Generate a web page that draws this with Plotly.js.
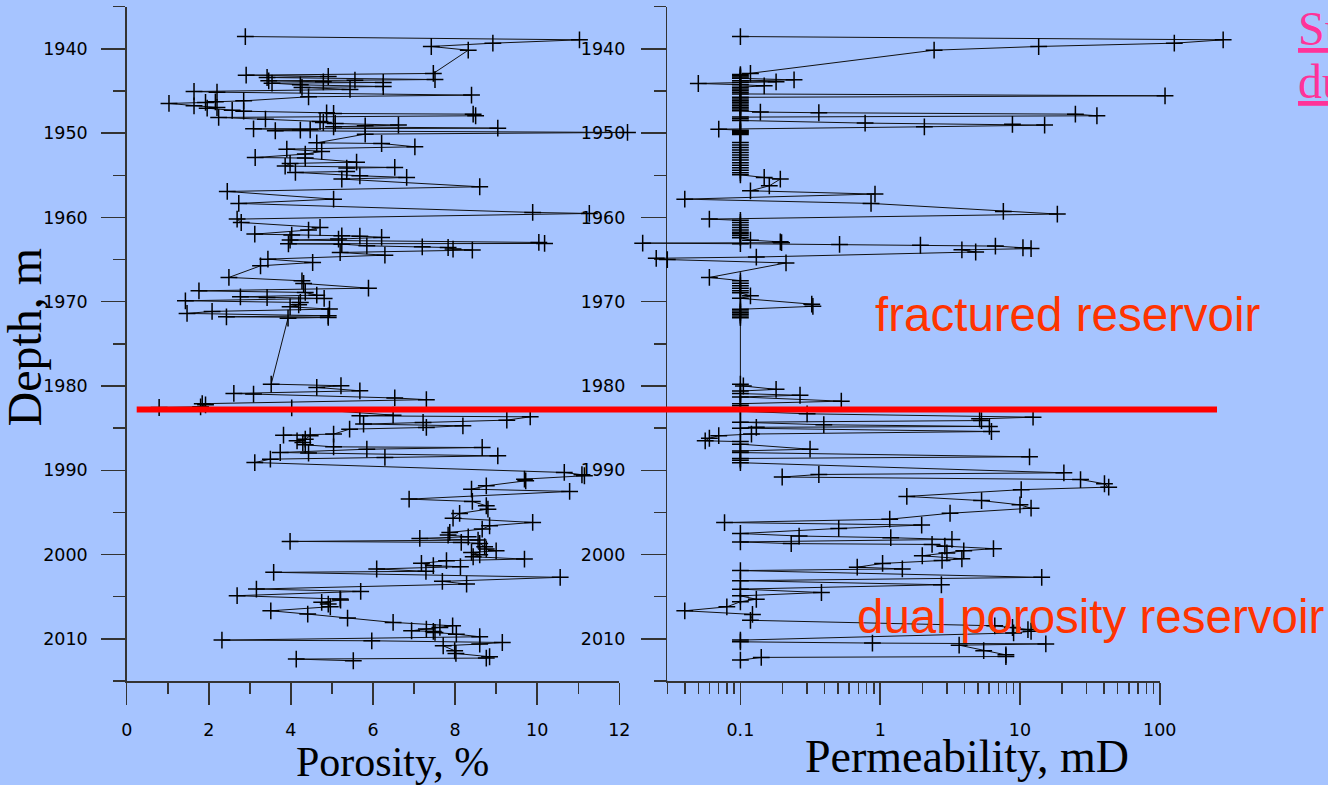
<!DOCTYPE html>
<html>
<head>
<meta charset="utf-8">
<script src="https://cdn.plot.ly/plotly-3.0.1.min.js"></script>
<style>html,body{margin:0;padding:0;background:#a6c4ff;}#chart{width:1328px;height:785px;}</style>
</head>
<body>
<div id="chart"></div>
<script>
// ---------------- data ----------------
const porDepth = [1938.54,1938.93,1939.33,1939.72,1940.16,1942.92,1943.12,1943.28,1943.40,1943.64,1943.72,1943.79,1943.91,1943.99,1944.07,1944.27,1944.47,1944.58,1944.82,1945.06,1945.14,1945.49,1945.69,1946.17,1946.28,1946.36,1946.48,1946.76,1946.96,1947.04,1947.30,1947.40,1947.59,1947.67,1947.75,1947.94,1948.14,1948.34,1948.62,1948.74,1948.85,1949.05,1949.13,1949.25,1949.41,1949.49,1949.60,1949.64,1949.72,1949.92,1950.12,1951.15,1951.23,1951.62,1951.90,1952.17,1952.49,1952.89,1952.96,1953.44,1953.60,1953.91,1954.07,1954.15,1954.55,1954.66,1955.06,1955.26,1955.45,1956.36,1956.92,1957.83,1958.34,1959.41,1959.53,1960.20,1960.60,1961.19,1961.50,1961.98,1962.10,1962.18,1962.22,1962.37,1962.57,1962.69,1962.97,1963.09,1963.13,1963.17,1963.37,1963.49,1963.57,1963.76,1963.88,1964.16,1964.48,1964.95,1965.35,1965.74,1967.12,1967.52,1967.84,1968.39,1968.71,1968.90,1969.22,1969.42,1969.50,1969.61,1969.89,1970.09,1970.36,1970.60,1970.88,1971.15,1971.39,1971.67,1971.79,1971.87,1971.95,1979.78,1979.97,1980.17,1980.57,1980.88,1980.96,1981.42,1981.62,1982.10,1982.23,1982.47,1982.55,1982.60,1983.46,1983.54,1983.66,1984.05,1984.33,1984.52,1984.72,1984.92,1985.12,1985.71,1985.83,1985.91,1986.31,1986.51,1986.71,1986.98,1987.22,1987.30,1987.50,1987.89,1987.95,1988.29,1988.48,1988.68,1989.08,1990.26,1990.53,1990.65,1991.05,1991.25,1991.84,1992.24,1992.51,1993.42,1993.70,1994.21,1994.61,1995.12,1995.68,1996.19,1996.58,1996.98,1997.37,1997.69,1997.89,1998.08,1998.28,1998.44,1998.56,1998.68,1999.07,1999.35,1999.55,1999.75,2000.02,2000.26,2000.53,2000.73,2001.04,2001.32,2001.44,2001.71,2001.99,2002.11,2002.70,2003.18,2003.50,2004.09,2004.37,2004.88,2005.28,2005.40,2005.67,2005.87,2006.19,2006.67,2007.06,2007.54,2008.05,2008.45,2008.64,2008.84,2009.04,2009.12,2009.24,2009.44,2009.75,2010.15,2010.23,2010.43,2010.62,2010.82,2011.41,2011.73,2012.12,2012.28,2012.40,2012.60];
const porosity = [2.89,11.03,8.92,7.42,8.32,7.47,2.91,4.91,3.42,7.51,5.56,3.46,4.79,6.25,3.54,4.23,6.25,4.27,5.44,1.64,2.20,8.40,4.43,2.85,2.16,1.92,1.03,1.64,2.20,1.96,2.57,2.85,4.87,5.04,8.44,8.50,2.24,3.38,4.71,4.79,5.08,6.62,5.81,5.04,9.04,3.09,4.47,4.23,3.62,12.20,5.81,4.63,6.21,7.02,3.90,4.75,4.35,3.13,4.35,5.60,3.98,3.86,6.53,5.36,5.36,4.11,5.68,6.82,5.24,8.60,2.45,5.04,2.73,9.89,11.27,2.69,2.79,4.71,4.43,3.12,4.02,5.24,5.68,6.21,5.16,3.98,10.04,10.18,3.94,5.24,5.85,7.20,7.83,7.95,8.42,5.20,6.29,3.44,4.53,3.26,2.49,4.27,4.31,5.89,1.76,4.35,4.63,2.77,3.42,4.81,1.43,4.23,4.19,3.98,4.94,2.08,1.47,4.91,2.43,4.91,3.93,3.52,5.22,4.63,5.68,2.61,3.09,6.53,7.30,1.84,1.92,1.80,0.79,4.02,6.49,5.68,9.83,9.26,7.22,5.77,8.19,7.30,5.43,5.04,3.82,4.47,4.35,4.15,4.29,4.35,5.04,8.66,5.85,3.74,4.43,9.04,6.29,3.50,3.12,10.66,11.09,11.15,9.69,9.72,8.76,8.40,10.79,6.88,8.42,8.76,8.80,8.11,7.95,9.89,8.84,8.66,7.87,7.83,8.32,7.14,8.56,3.98,8.15,8.60,8.72,8.76,9.00,8.40,8.60,8.44,9.69,7.79,7.18,7.47,8.13,6.09,7.29,3.58,10.56,7.69,8.28,3.16,5.70,2.69,5.20,5.21,4.75,4.91,4.96,3.51,4.41,5.38,6.49,7.94,7.63,7.30,6.94,7.47,7.51,8.03,8.60,2.32,5.97,9.15,8.60,7.71,7.99,8.02,8.84,8.76,4.13,5.52];

const permDepth = [1938.54,1938.93,1939.33,1939.72,1940.16,1942.92,1943.05,1943.20,1943.35,1943.50,1943.68,1943.80,1943.91,1944.00,1944.11,1944.25,1944.39,1944.55,1944.75,1944.95,1945.15,1945.35,1945.57,1945.75,1945.95,1946.15,1946.35,1946.55,1946.75,1946.95,1947.15,1947.35,1947.50,1947.58,1947.75,1947.94,1948.10,1948.30,1948.50,1948.81,1948.95,1949.05,1949.25,1949.53,1949.65,1949.78,1949.90,1950.02,1950.15,1951.10,1951.40,1951.70,1952.00,1952.30,1952.60,1952.90,1953.20,1953.50,1953.80,1954.10,1954.40,1954.70,1954.95,1955.26,1955.45,1956.25,1956.84,1957.23,1957.83,1958.34,1959.29,1959.60,1960.20,1960.35,1960.60,1960.90,1961.20,1961.50,1961.75,1961.95,1962.15,1962.40,1962.70,1962.90,1963.00,1963.05,1963.12,1963.20,1963.30,1963.40,1963.60,1963.70,1963.85,1964.10,1964.70,1964.85,1965.00,1965.40,1967.12,1967.50,1967.80,1968.10,1968.40,1968.70,1968.95,1969.30,1969.60,1970.29,1970.55,1970.90,1971.10,1971.30,1971.50,1971.70,1971.90,1979.78,1980.00,1980.40,1980.60,1980.90,1981.10,1981.30,1981.80,1982.10,1982.35,1983.00,1983.30,1983.70,1983.90,1984.10,1984.30,1984.60,1984.80,1984.90,1985.00,1985.40,1985.70,1985.90,1986.20,1986.50,1986.60,1986.90,1987.50,1987.70,1987.90,1988.40,1988.60,1988.80,1989.10,1990.30,1990.50,1990.80,1991.10,1991.60,1992.00,1992.30,1993.10,1993.60,1994.10,1994.50,1995.10,1995.80,1996.20,1996.50,1996.90,1997.50,1997.80,1998.00,1998.20,1998.50,1998.70,1998.80,1999.00,1999.30,1999.55,1999.80,2000.14,2000.50,2000.70,2001.05,2001.50,2001.70,2001.90,2002.70,2003.10,2003.58,2004.10,2004.50,2004.90,2005.30,2005.60,2006.20,2006.67,2007.10,2007.80,2008.45,2008.65,2008.90,2009.10,2009.30,2010.15,2010.35,2010.50,2010.60,2010.75,2011.40,2011.90,2012.10,2012.20,2012.52];
const permeability = [0.1,284,127,13.6,2.43,0.118,0.1,0.1,0.1,0.1,0.242,0.1,0.18,0.1,0.05,0.1,0.148,0.1,0.1,0.1,0.1,0.1,109,0.1,0.1,0.1,0.1,0.1,0.1,0.1,0.1,0.1,0.139,0.364,24.9,35.5,0.1,0.1,0.1,0.78,8.83,15.0,2.07,0.07,0.1,0.1,0.1,0.1,0.1,0.1,0.1,0.1,0.1,0.1,0.1,0.1,0.1,0.1,0.1,0.1,0.1,0.1,0.1,0.148,0.193,0.161,0.118,0.918,0.04,0.86,7.6,18.5,0.06,0.1,0.1,0.1,0.1,0.1,0.1,0.1,0.1,0.1,0.118,0.193,0.197,0.02,0.1,0.512,1.94,6.67,10.5,12.0,3.84,4.82,0.13,0.025,0.03,0.212,0.06,0.1,0.1,0.1,0.1,0.1,0.1,0.118,0.1,0.324,0.33,0.1,0.1,0.1,0.1,0.1,0.1,0.1,0.105,0.18,0.1,0.1,0.267,0.1,0.527,0.1,0.1,0.1,0.30,12.4,5.14,5.3,0.1,0.395,6.04,0.13,0.1,6.25,0.12,0.07,0.06,0.056,0.1,0.1,0.315,0.1,0.1,11.7,0.1,0.1,0.1,20.6,0.364,0.199,27.1,40.2,43.1,10.2,1.55,5.31,10.0,12.0,3.16,1.17,0.077,1.98,0.505,0.1,0.263,1.19,3.26,0.1,0.231,2.35,2.9,6.46,3.96,3.0,2.0,3.84,2.77,1.04,0.685,1.44,0.1,14.3,0.1,2.74,0.1,0.38,0.1,0.13,0.1,0.08,0.04,0.122,0.118,6.6,8.84,11.4,12.0,9.0,0.1,0.1,0.88,15.3,3.67,5.5,7.93,7.93,0.141,0.1];

const boundaryDepth = 1982.8;
const depthTicks = [1940,1950,1960,1970,1980,1990,2000,2010];
const permTickVals = [0.1,1,10,100];
const permTickText = ['0.1','1','10','100'];
const labels = {
  depth: 'Depth, m', porosity: 'Porosity, %', perm: 'Permeability, mD',
  fractured: 'fractured reservoir', dual: 'dual porosity reservoir',
  cut1: 'Su', cut2: 'du'
};

// ---------------- layout helpers ----------------
const W = 1328, H = 785;
const fx = v => v / W;
const fy = v => 1 - v / H;
const BG = '#a6c4ff';
const AX = '#333333';

// pixel geometry of the visible axes
const porL = 126.7, porR = 619.3, porMin = 0, porMax = 12;
const permL = 667.3, permR = 1159.8, permLogMin = Math.log10(0.03), permLogMax = 2;
// wider, hidden data subplots with the same scales so marks can run past the axes (as in the original)
const porPerPx = (porMax - porMin) / (porR - porL);
const dataPorL = 110, dataPorR = 645;
const dataPorRange = [porMin + (dataPorL - porL) * porPerPx, porMin + (dataPorR - porL) * porPerPx];
const permPerPx = (permLogMax - permLogMin) / (permR - permL);
const dataPermL = 630, dataPermR = 1245;
const dataPermRange = [permLogMin + (dataPermL - permL) * permPerPx, permLogMin + (dataPermR - permL) * permPerPx];

const permMinor = [];
[0.01,0.1,1,10].forEach(d => { for (let k = 2; k <= 9; k++) permMinor.push(+(k*d).toPrecision(3)); });

const markerStyle = {symbol:'cross-thin', size:12, line:{width:1.5, color:'#000'}, color:'#000'};
const lineStyle = {color:'#111', width:1};

const traces = [
  {x: [], y: [], type:'scatter', mode:'markers', xaxis:'x', yaxis:'y', hoverinfo:'skip', showlegend:false},
  {x: [], y: [], type:'scatter', mode:'markers', xaxis:'x2', yaxis:'y2', hoverinfo:'skip', showlegend:false},
  {x: porosity, y: porDepth, type:'scatter', mode:'lines+markers', xaxis:'x3', yaxis:'y3',
   marker: markerStyle, line: lineStyle, cliponaxis:false, name:'Porosity'},
  {x: permeability, y: permDepth, type:'scatter', mode:'lines+markers', xaxis:'x4', yaxis:'y4',
   marker: markerStyle, line: lineStyle, cliponaxis:false, name:'Permeability'}
];

const yDom = [fy(681), fy(6.7)];
const yRange = [2015, 1935];
const tickFont = {family:'DejaVu Sans', size:17.5, color:'#000'};
const baseAxis = {showgrid:false, zeroline:false, showline:true, linecolor:AX, linewidth:1.5,
  ticks:'outside', tickcolor:AX, tickwidth:1.5, tickfont:tickFont, fixedrange:true};
const hidden = {visible:false, showgrid:false, zeroline:false, fixedrange:true};

const layout = {
  width:W, height:H, margin:{l:0,r:0,t:0,b:0},
  paper_bgcolor:BG, plot_bgcolor:'rgba(0,0,0,0)', showlegend:false,
  xaxis: Object.assign({}, baseAxis, {domain:[fx(porL), fx(porR)], range:[porMin, porMax], tick0:0, dtick:2,
    ticklen:22, anchor:'y', ticklabelstandoff:10,
    minor:{dtick:1, tick0:0, ticks:'outside', ticklen:11, tickcolor:AX, tickwidth:1.5, showgrid:false}}),
  yaxis: Object.assign({}, baseAxis, {domain:yDom, range:yRange, tickmode:'array', tickvals:depthTicks,
    ticklen:24, anchor:'x', ticklabelstandoff:10,
    minor:{dtick:5, tick0:1935, ticks:'outside', ticklen:12, tickcolor:AX, tickwidth:1.5, showgrid:false}}),
  xaxis2: Object.assign({}, baseAxis, {type:'log', domain:[fx(permL), fx(permR)], range:[permLogMin, permLogMax],
    tickmode:'array', tickvals:permTickVals, ticktext:permTickText, ticklen:22, anchor:'y2', ticklabelstandoff:10,
    minor:{tickmode:'array', tickvals:permMinor, ticks:'outside', ticklen:11, tickcolor:AX, tickwidth:1.5, showgrid:false}}),
  yaxis2: Object.assign({}, baseAxis, {domain:yDom, range:yRange, tickmode:'array', tickvals:depthTicks,
    ticklen:25, anchor:'x2', ticklabelstandoff:12,
    minor:{dtick:5, tick0:1935, ticks:'outside', ticklen:12, tickcolor:AX, tickwidth:1.5, showgrid:false}}),
  xaxis3: Object.assign({}, hidden, {domain:[fx(dataPorL), fx(dataPorR)], range:dataPorRange, anchor:'y3'}),
  yaxis3: Object.assign({}, hidden, {domain:yDom, range:yRange, anchor:'x3'}),
  xaxis4: Object.assign({}, hidden, {type:'log', domain:[fx(dataPermL), fx(dataPermR)], range:dataPermRange, anchor:'y4'}),
  yaxis4: Object.assign({}, hidden, {domain:yDom, range:yRange, anchor:'x4'}),
  shapes: [
    {type:'line', xref:'paper', yref:'y', x0:fx(136.7), x1:fx(1217), y0:boundaryDepth, y1:boundaryDepth,
     line:{color:'#ff0000', width:6}, layer:'above'},
    {type:'line', xref:'paper', yref:'paper', x0:fx(655), x1:fx(permL), y0:fy(681), y1:fy(681),
     line:{color:AX, width:1.5}}
  ],
  annotations: [
    {text:labels.depth, xref:'paper', yref:'paper', x:fx(24), y:fy(337.5), textangle:-90,
     xanchor:'center', yanchor:'middle', showarrow:false,
     font:{family:'Liberation Serif', size:48, color:'#000'}},
    {text:labels.porosity, xref:'paper', yref:'paper', x:fx(392.5), y:fy(762), xanchor:'center', yanchor:'middle',
     showarrow:false, font:{family:'Liberation Serif', size:42, color:'#000'}},
    {text:labels.perm, xref:'paper', yref:'paper', x:fx(967), y:fy(756), xanchor:'center', yanchor:'middle',
     showarrow:false, font:{family:'Liberation Serif', size:46, color:'#000'}},
    {text:labels.fractured, xref:'paper', yref:'paper', x:fx(873), y:fy(314.7), xanchor:'left', yanchor:'middle',
     showarrow:false, font:{family:'Liberation Sans', size:47.5, color:'#ff3300'}},
    {text:labels.dual, xref:'paper', yref:'paper', x:fx(855), y:fy(616.7), xanchor:'left', yanchor:'middle',
     showarrow:false, font:{family:'Liberation Sans', size:47.5, color:'#ff3300'}},
    {text:'<u>'+labels.cut1+'</u>', xref:'paper', yref:'paper', x:fx(1296), y:fy(28.8), xanchor:'left', yanchor:'middle',
     showarrow:false, font:{family:'Liberation Serif', size:48, color:'#ff3399'}},
    {text:'<u>'+labels.cut2+'</u>', xref:'paper', yref:'paper', x:fx(1296), y:fy(81.8), xanchor:'left', yanchor:'middle',
     showarrow:false, font:{family:'Liberation Serif', size:48, color:'#ff3399'}}
  ]
};

Plotly.newPlot('chart', traces, layout, {displayModeBar:false, staticPlot:true});
</script>
</body>
</html>
